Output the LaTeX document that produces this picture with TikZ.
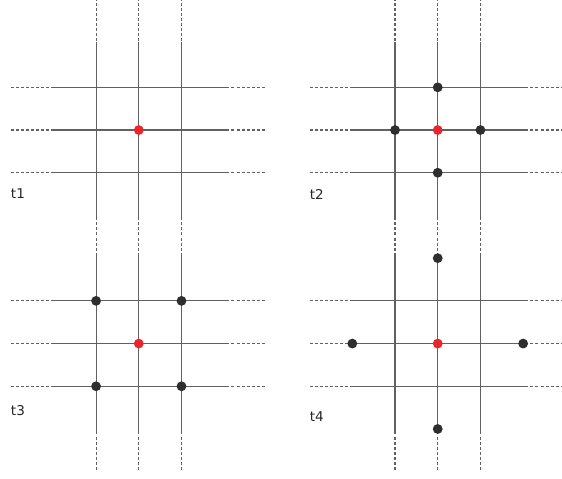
\documentclass[tikz,border=0pt]{standalone}
\usepackage{fontspec}
\setmainfont{DejaVu Sans}
\definecolor{dotred}{HTML}{E8262B}
\definecolor{dotgray}{HTML}{2E2E2E}
\tikzset{
    gridline/.style={black!62, line width=0.75pt},
    gridfade/.style={black!62, line width=0.75pt, dash pattern=on 2pt off 1.4pt},
    site/.style={fill=dotgray},
    centre/.style={fill=dotred},
    tlabel/.style={font=\fontsize{9}{11}\selectfont, text=black!85}
}

\begin{document}
\begin{tikzpicture}[scale=1]
\useasboundingbox (-3.25,-8.15) rectangle (9.91,3.045);

% Dotted columns, full height
\foreach \x in {-1,0,1,6,7,8}
    \draw[gridfade] (\x,3.1) -- (\x,-8.0);

% Grids
\foreach \px/\py/\name/\ly in {0/0/t1/-1.48, 7/0/t2/-1.52, 0/-5/t3/-1.56, 7/-5/t4/-1.72}{
    \begin{scope}[shift={(\px,\py)}]
        \foreach \y in {-1,0,1}{
            \draw[gridfade] (-3,\y) -- (-2.05,\y);
            \draw[gridfade] (2.05,\y) -- (3,\y);
            \draw[gridline] (-2.05,\y) -- (2.05,\y);
        }
        \foreach \x in {-1,0,1}
            \draw[gridline] (\x,-2.05) -- (\x,2.05);
        \node[tlabel] (\name) at (-2.83,\ly) {\name};
    \end{scope}
}

% t1
\fill[centre] (0,0) circle (0.115);

% t2
\foreach \p in {(7,1),(6,0),(8,0),(7,-1)}
    \fill[site] \p circle (0.115);
\fill[centre] (7,0) circle (0.115);

% t3
\foreach \p in {(-1,-4),(1,-4),(-1,-6),(1,-6)}
    \fill[site] \p circle (0.115);
\fill[centre] (0,-5) circle (0.115);

% t4
\foreach \p in {(7,-3),(5,-5),(9,-5),(7,-7)}
    \fill[site] \p circle (0.115);
\fill[centre] (7,-5) circle (0.115);

\end{tikzpicture}
\end{document}
